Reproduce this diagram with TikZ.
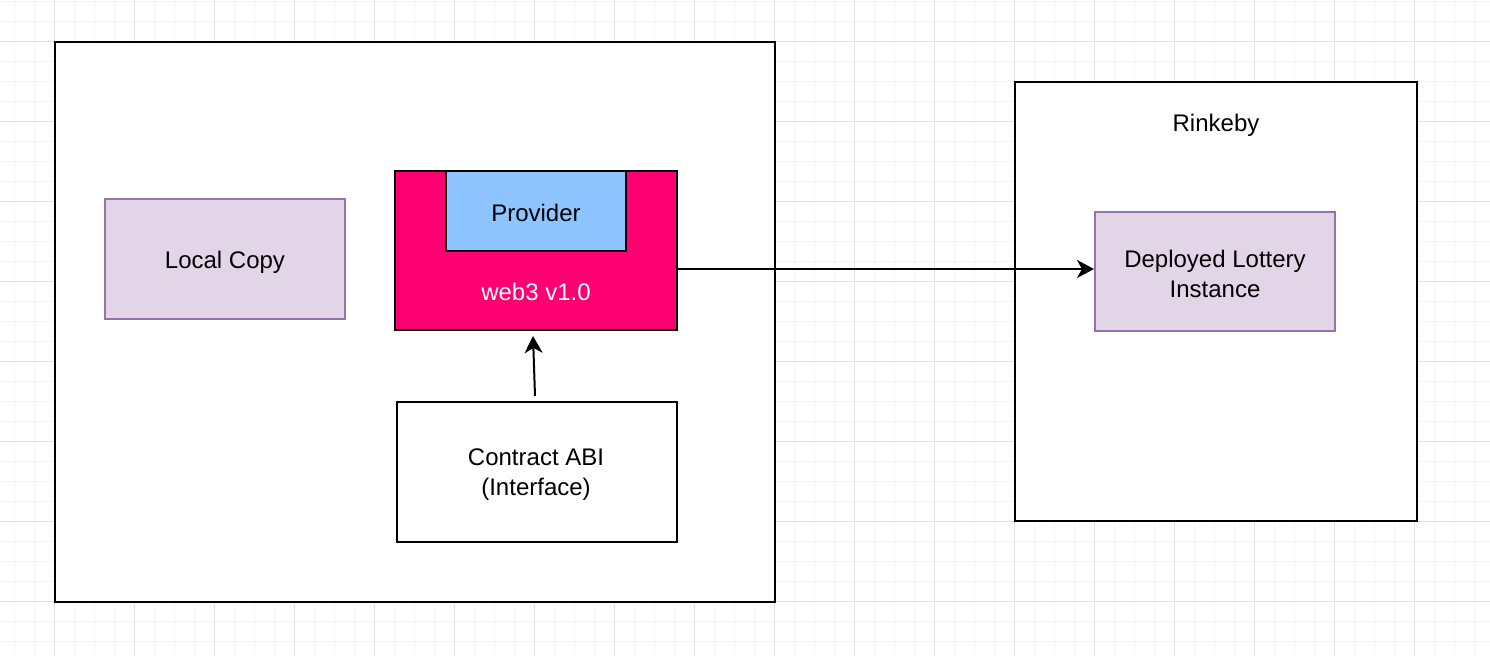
\documentclass[tikz,border=0pt]{standalone}
\usepackage{fontspec}
\setmainfont{Liberation Sans}
\usetikzlibrary{arrows.meta}
\definecolor{gridminor}{HTML}{F4F4F4}
\definecolor{gridmajor}{HTML}{E2E2E2}
\definecolor{purfill}{HTML}{E1D5E7}
\definecolor{purline}{HTML}{9673A6}
\definecolor{web3pink}{HTML}{FF0072}
\definecolor{provblue}{HTML}{8EC4FF}
\tikzset{
  box/.style={draw=black, line width=2pt, fill=white, inner sep=0pt},
  purplebox/.style={draw=purline, line width=2pt, fill=purfill, inner sep=0pt},
  txt/.style={font=\fontsize{24}{30}\selectfont, align=center, inner sep=0pt},
  conn/.style={line width=2pt, -{Stealth[length=17pt,width=18pt,inset=5pt]}},
}
\begin{document}
\begin{tikzpicture}[x=1pt,y=-1pt]
\useasboundingbox (0,0) rectangle (1490,656);
\fill[white] (0,0) rectangle (1490,656);
% grid
\foreach \x in {14,34,...,1490} \draw[gridminor, line width=1pt] (\x,0) -- (\x,656);
\foreach \y in {1,21,...,656} \draw[gridminor, line width=1pt] (0,\y) -- (1490,\y);
\foreach \x in {54,134,...,1490} \draw[gridmajor, line width=1pt] (\x,0) -- (\x,656);
\foreach \y in {41,121,...,656} \draw[gridmajor, line width=1pt] (0,\y) -- (1490,\y);
% containers
\node[box, minimum width=720pt, minimum height=560pt] (local) at (415,322) {};
\node[box, minimum width=402pt, minimum height=439pt] (rinkeby) at (1216,301.5) {};
\node[txt] (rinkebylabel) at (1216,125) {Rinkeby};
% inner nodes
\node[purplebox, minimum width=240pt, minimum height=120pt] (copy) at (225,259) {};
\node[txt] (copytext) at (225,262) {Local Copy};
\node[box, fill=web3pink, minimum width=282pt, minimum height=159pt] (web3) at (536,250.5) {};
\node[box, fill=provblue, minimum width=180pt, minimum height=80pt] (provider) at (536,211) {};
\node[txt] (providertext) at (536,213) {Provider};
\node[txt, text=white] (web3label) at (536,292) {web3 v1.0};
\node[box, minimum width=280pt, minimum height=140pt] (abi) at (537,472) {};
\node[txt] (abitext) at (536,475) {Contract ABI\\(Interface)};
\node[purplebox, minimum width=240pt, minimum height=119pt] (deployed) at (1215,271.5) {};
\node[txt] (deployedtext) at (1215,274) {Deployed Lottery\\Instance};
% connectors
\coordinate (upstart) at (535,396);
\coordinate (upend) at (533,336);
\draw[conn] (upstart) -- (upend);
\draw[conn] (web3.east |- 0,269) -- (deployed.west |- 0,269);
\end{tikzpicture}
\end{document}
